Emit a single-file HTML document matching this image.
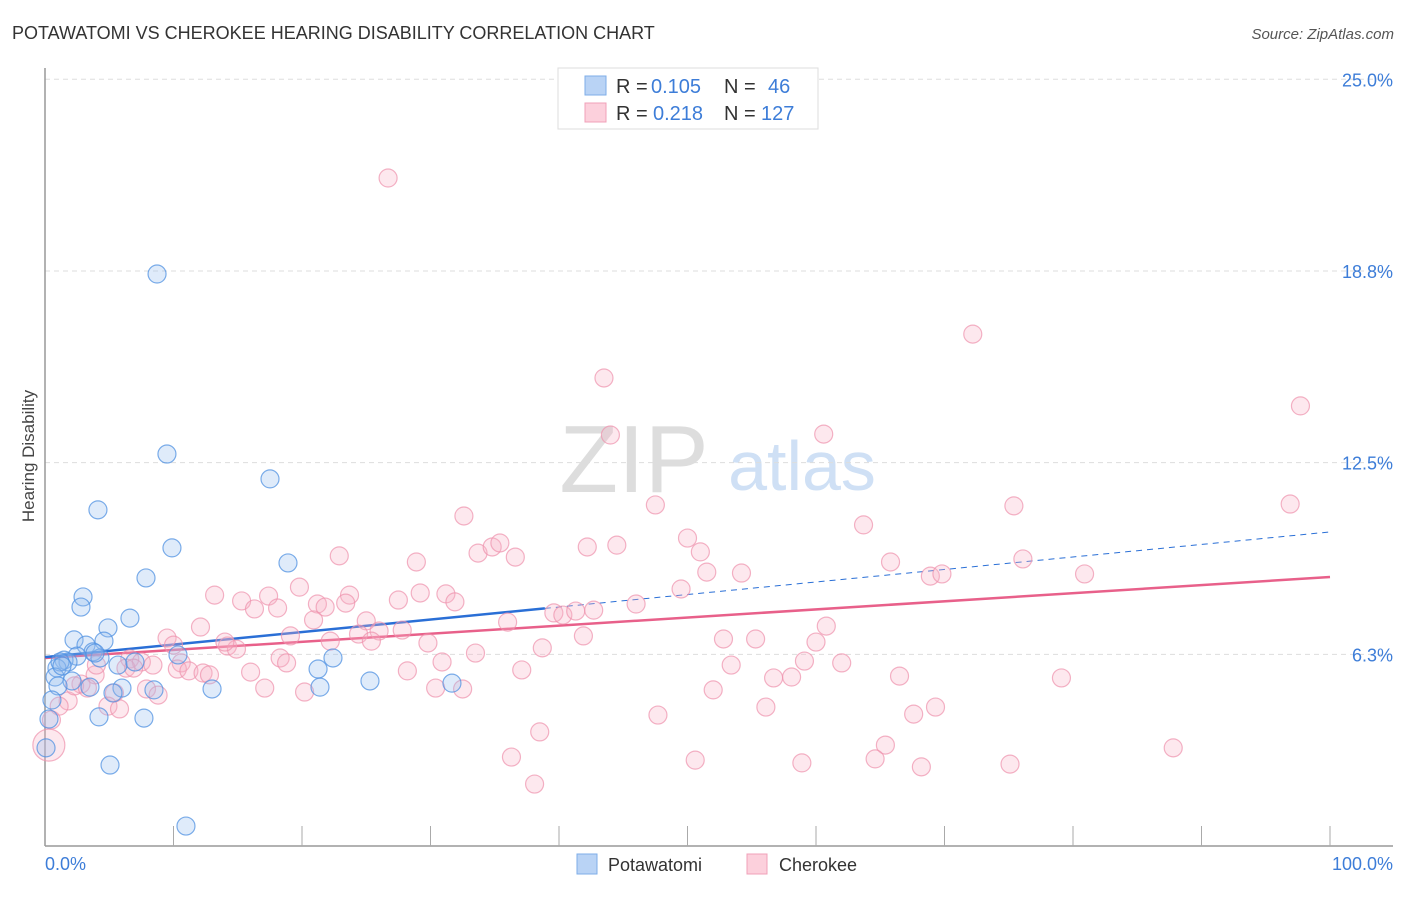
<!DOCTYPE html>
<html><head><meta charset="utf-8"><style>
body{margin:0;background:#fff;font-family:"Liberation Sans",sans-serif;}
svg text{font-family:"Liberation Sans",sans-serif;}
</style></head><body>
<svg id="chart" width="1406" height="892" viewBox="0 0 1406 892" xmlns="http://www.w3.org/2000/svg">
<text x="12" y="39" font-size="18" fill="#333">POTAWATOMI VS CHEROKEE HEARING DISABILITY CORRELATION CHART</text>
<text x="1394" y="39" font-size="15" fill="#555" text-anchor="end" font-style="italic">Source: ZipAtlas.com</text>
<g>
<text x="634" y="492" font-size="96" fill="#ddd" text-anchor="middle" font-family="Liberation Serif,serif">ZIP</text>
<text x="802" y="490" font-size="70" fill="#cfe0f5" text-anchor="middle">atlas</text>
</g>
<g id="grid"></g>
<g id="axes"></g>
<g id="lines"></g>
<g id="points"></g>
<text transform="translate(34,456) rotate(-90)" font-size="17" fill="#444" text-anchor="middle">Hearing Disability</text>
<g>
<rect x="558" y="68" width="260" height="61" fill="#fff" stroke="#ddd"/>
<rect x="585" y="76" width="21" height="19" fill="#b9d3f5" stroke="#7eaee8"/>
<text x="616" y="93" font-size="20" fill="#333">R =</text>
<text x="651" y="93" font-size="20" fill="#3d7dd8">0.105</text>
<text x="724" y="93" font-size="20" fill="#333">N =</text>
<text x="768" y="93" font-size="20" fill="#3d7dd8">46</text>
<rect x="585" y="103" width="21" height="19" fill="#fcd0dc" stroke="#f0a0b8"/>
<text x="616" y="120" font-size="20" fill="#333">R =</text>
<text x="653" y="120" font-size="20" fill="#3d7dd8">0.218</text>
<text x="724" y="120" font-size="20" fill="#333">N =</text>
<text x="761" y="120" font-size="20" fill="#3d7dd8">127</text>
</g>
<g>
<rect x="577" y="854" width="20" height="20" fill="#b9d3f5" stroke="#7eaee8"/>
<text x="608" y="871" font-size="18" fill="#333">Potawatomi</text>
<rect x="747" y="854" width="20" height="20" fill="#fcd0dc" stroke="#f0a0b8"/>
<text x="779" y="871" font-size="18" fill="#333">Cherokee</text>
</g>
</svg>
<script>
const yTicks=[25,18.75,12.5,6.25];
const yTickLabels=["25.0%","18.8%","12.5%","6.3%"];
const xTickCount=10;
const xLabels=["0.0%","100.0%"];
const blueX=[8.72,9.49,4.12,17.51,9.88,7.86,18.91,2.96,2.80,6.61,4.90,2.26,4.59,3.19,3.74,2.49,1.48,1.79,0.93,1.17,5.68,4.28,10.35,22.41,21.25,0.78,2.10,3.50,5.99,1.01,8.48,13.0,21.4,25.29,31.67,5.29,0.54,0.31,4.2,7.7,0.08,5.06,10.97,1.32,3.89,7.0];
const blueY=[18.65,12.78,10.96,11.97,9.72,8.74,9.23,8.12,7.79,7.43,7.11,6.72,6.68,6.55,6.33,6.19,6.06,6.00,5.80,6.00,5.90,6.13,6.23,6.13,5.77,5.51,5.38,5.18,5.15,5.22,5.09,5.12,5.18,5.38,5.31,4.99,4.76,4.14,4.21,4.17,3.20,2.64,0.65,5.87,6.29,6.0];
const pinkX=[26.7,72.2,43.5,97.7,44.0,60.6,47.5,32.6,63.7,75.4,96.9,50.0,51.0,42.2,44.5,33.7,34.8,35.4,36.6,22.9,28.9,65.8,76.1,51.5,54.2,68.9,69.8,80.9,19.8,13.2,15.3,17.4,23.7,29.2,31.2,27.5,31.9,21.2,23.4,16.3,18.1,21.8,46.0,49.5,39.6,40.3,41.3,42.7,25.0,36.0,20.9,12.1,60.8,26.0,27.8,24.4,19.1,41.9,25.4,29.8,52.8,55.3,60.0,9.5,14.2,14.9,10.0,38.7,33.5,6.6,7.5,18.3,18.8,30.9,59.1,62.0,53.4,8.4,10.6,6.3,10.3,11.2,12.3,12.8,16.0,28.2,37.1,56.7,58.1,66.5,79.1,3.9,2.8,17.1,30.4,32.5,52.0,7.9,8.8,20.2,5.4,1.8,1.1,56.1,69.3,4.9,5.8,47.7,67.6,0.5,65.4,87.8,38.5,36.3,64.6,50.6,58.9,68.2,75.1,38.1,2.3,3.3,6.9,14.0,22.2,4.0];
const pinkY=[21.78,16.69,15.26,14.35,13.40,13.43,11.12,10.76,10.47,11.09,11.15,10.04,9.59,9.75,9.81,9.55,9.75,9.88,9.42,9.46,9.26,9.26,9.36,8.93,8.90,8.80,8.87,8.87,8.44,8.18,7.99,8.15,8.18,8.25,8.22,8.02,7.96,7.89,7.92,7.73,7.76,7.79,7.89,8.38,7.60,7.53,7.66,7.69,7.34,7.30,7.37,7.14,7.17,7.01,7.04,6.91,6.85,6.85,6.68,6.62,6.75,6.75,6.65,6.78,6.52,6.42,6.55,6.46,6.29,6.10,6.00,6.13,5.97,6.00,6.03,5.97,5.90,5.90,5.97,5.80,5.77,5.71,5.64,5.58,5.67,5.71,5.74,5.48,5.51,5.54,5.48,5.58,5.28,5.15,5.15,5.12,5.09,5.12,4.92,5.02,4.99,4.73,4.56,4.53,4.53,4.56,4.47,4.27,4.30,4.11,3.29,3.20,3.72,2.90,2.84,2.80,2.71,2.58,2.67,2.02,5.22,5.15,5.80,6.65,6.68,5.90];
const pinkBigX=[0.3];
const pinkBigY=[3.29];
const blueTrend=[6.16,10.24];
const blueSolidEnd=38.9;
const pinkTrend=[6.13,8.77];

const NS="http://www.w3.org/2000/svg";
const X0=45,X1=1330,Y0=846,YPER=30.67;
const sx=v=>X0+(X1-X0)*v/100;
const sy=v=>Y0-v*YPER;
function mk(tag,attrs,parent){const e=document.createElementNS(NS,tag);for(const k in attrs)e.setAttribute(k,attrs[k]);parent.appendChild(e);return e;}
const grid=document.getElementById('grid'),axes=document.getElementById('axes'),lines=document.getElementById('lines'),pts=document.getElementById('points');
yTicks.forEach((t,i)=>{
 const l=mk('line',{x1:45,x2:1393,y1:sy(t),y2:sy(t),stroke:'#ddd','stroke-dasharray':'5,4'},grid);
 
 
 const tx=mk('text',{x:1393,y:sy(t)+7,'font-size':18,fill:'#3d7dd8','text-anchor':'end'},axes);
 tx.textContent=yTickLabels[i];
 
 
});
const ya=mk('line',{x1:45,x2:45,y1:68,y2:846,stroke:'#999','stroke-width':1.5},axes);


const xa=mk('line',{x1:45,x2:1393,y1:846,y2:846,stroke:'#999','stroke-width':1.5},axes);


for(let k=1;k<=xTickCount;k++){
 const t=mk('line',{x1:sx(k*10),x2:sx(k*10),y1:846,y2:826,stroke:'#aaa'},axes);
 
 
}
const xl0=mk('text',{x:45,y:870,'font-size':18,fill:'#3d7dd8'},axes);xl0.textContent=xLabels[0];


const xl1=mk('text',{x:1393,y:870,'font-size':18,fill:'#3d7dd8','text-anchor':'end'},axes);xl1.textContent=xLabels[1];



function dot(x,y,r,fill,stroke,name){
 const c=mk('circle',{cx:sx(x),cy:sy(y),r:r,fill:fill,stroke:stroke,'stroke-width':1.2},pts);
 
 
}
pinkX.forEach((x,i)=>dot(x,pinkY[i],9,'rgba(248,180,200,0.3)','rgba(238,145,172,0.7)','cherokee-point'));
pinkBigX.forEach((x,i)=>dot(x,pinkBigY[i],16,'rgba(248,180,200,0.3)','rgba(238,145,172,0.7)','cherokee-point-large'));
blueX.forEach((x,i)=>dot(x,blueY[i],9,'rgba(150,190,240,0.3)','rgba(80,145,225,0.75)','potawatomi-point'));

const by=x=>blueTrend[0]+(blueTrend[1]-blueTrend[0])*x/100;
const py=x=>pinkTrend[0]+(pinkTrend[1]-pinkTrend[0])*x/100;
const pl=mk('line',{x1:sx(0),y1:sy(py(0)),x2:sx(100),y2:sy(py(100)),stroke:'#e8608a','stroke-width':2.5},lines);


const bl=mk('line',{x1:sx(0),y1:sy(by(0)),x2:sx(blueSolidEnd),y2:sy(by(blueSolidEnd)),stroke:'#2a6fd6','stroke-width':2.5},lines);


const bd=mk('line',{x1:sx(blueSolidEnd),y1:sy(by(blueSolidEnd)),x2:sx(100),y2:sy(by(100)),stroke:'#2a6fd6','stroke-width':1,'stroke-dasharray':'6,5'},lines);


</script>
</body></html>
